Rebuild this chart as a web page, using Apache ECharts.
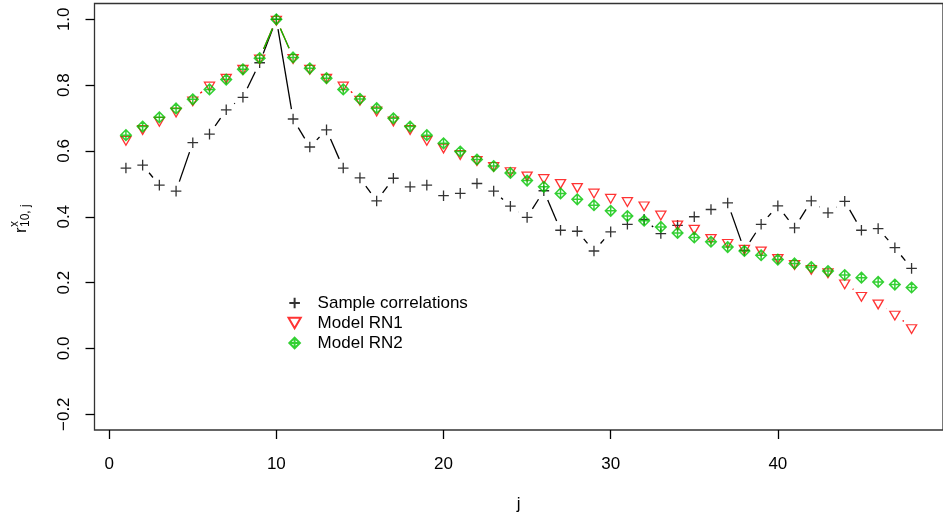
<!DOCTYPE html>
<html><head><meta charset="utf-8">
<script src="https://cdn.jsdelivr.net/npm/echarts@6/dist/echarts.min.js"></script>
<style>html,body{margin:0;padding:0;background:#fff}#c{width:943px;height:518px}</style>
</head><body><div id="c"></div>
<script>
// ---- data ----
const lags = [1,2,3,4,5,6,7,8,9,10,11,12,13,14,15,16,17,18,19,20,21,22,23,24,25,26,27,28,29,30,31,32,33,34,35,36,37,38,39,40,41,42,43,44,45,46,47,48];
const sampleCorr = [0.548,0.557,0.496,0.478,0.625,0.651,0.725,0.763,0.868,1.0,
  0.697,0.612,0.664,0.548,0.518,0.448,0.517,0.491,0.496,0.464,
  0.471,0.501,0.478,0.432,0.398,0.479,0.359,0.356,0.296,0.354,
  0.377,0.392,0.349,0.374,0.400,0.422,0.442,0.298,0.377,0.433,
  0.366,0.448,0.412,0.447,0.359,0.364,0.306,0.243];
const modelRN1 = [0.635,0.668,0.693,0.721,0.755,0.800,0.824,0.851,0.882,1.0,
  0.884,0.851,0.824,0.800,0.757,0.724,0.694,0.668,0.635,0.612,
  0.592,0.574,0.556,0.540,0.527,0.519,0.504,0.492,0.475,0.459,
  0.449,0.436,0.408,0.378,0.365,0.337,0.322,0.304,0.299,0.276,
  0.258,0.243,0.233,0.199,0.161,0.138,0.104,0.063];
const modelRN2 = [0.648,0.674,0.702,0.729,0.757,0.787,0.817,0.848,0.882,1.0,
  0.884,0.851,0.821,0.787,0.758,0.730,0.699,0.674,0.648,0.623,
  0.598,0.574,0.554,0.533,0.510,0.491,0.471,0.453,0.435,0.418,
  0.402,0.388,0.369,0.351,0.337,0.324,0.308,0.296,0.283,0.270,
  0.258,0.247,0.235,0.223,0.215,0.202,0.194,0.185];
const xTicks = [0,10,20,30,40];
const yTicks = [-0.2,0.0,0.2,0.4,0.6,0.8,1.0];
const seriesNames = ['Sample correlations','Model RN1','Model RN2'];

// ---- styling ----
const FONT = '"Liberation Sans", Arial, Helvetica, sans-serif';
const FS = 17;
const BLACK = '#000000', RED = '#ff0000', GREEN = '#00c400';
const PLUS = 'path://M0,-1L0,1M-1,0L1,0';
const TRI_DOWN = 'path://M-1.347,-0.778L1.347,-0.778L0,1.555Z';
const DIAMOND_PLUS = 'path://M0,-1L1,0L0,1L-1,0ZM0,-1L0,1M-1,0L1,0';

function pairs(vals){ return lags.map((j,i)=>[j, vals[i]]); }
function segData(vals){
  const d=[];
  for(let i=0;i<vals.length-1;i++) d.push([lags[i],vals[i],lags[i+1],vals[i+1]]);
  return d;
}
function segSeries(vals,color){
  return {
    type:'custom', silent:true, clip:true, data:segData(vals),
    encode:{x:[0,2], y:[1,3]},
    renderItem:function(params, api){
      const a = api.coord([api.value(0), api.value(1)]);
      const b = api.coord([api.value(2), api.value(3)]);
      const dx=b[0]-a[0], dy=b[1]-a[1], L=Math.hypot(dx,dy), g=10;
      if (L <= 2*g) return {type:'group', children:[]};
      const ux=dx/L, uy=dy/L;
      return {type:'line', shape:{x1:a[0]+ux*g, y1:a[1]+uy*g, x2:b[0]-ux*g, y2:b[1]-uy*g},
              style:{stroke:color, lineWidth:1.3}};
    }
  };
}

const chart = echarts.init(document.getElementById('c'), null, {renderer:'canvas'});
chart.setOption({
  animation:false,
  backgroundColor:'#ffffff',
  textStyle:{fontFamily:FONT},
  grid:{left:94.5, top:3.5, width:856, height:426.5, show:true, borderColor:'#333', borderWidth:1.3, backgroundColor:'transparent', containLabel:false},
  xAxis:{
    type:'value', min:-0.88, max:49.88,
    name:'j', nameLocation:'middle', nameGap:66,
    nameTextStyle:{fontSize:FS, color:BLACK, fontFamily:FONT},
    axisLine:{show:false, onZero:false},
    axisTick:{show:true, length:9, lineStyle:{color:BLACK, width:1.3}, customValues:xTicks},
    axisLabel:{fontSize:FS, color:BLACK, fontFamily:FONT, margin:26, customValues:xTicks, formatter:v=>String(v)},
    splitLine:{show:false}
  },
  yAxis:{
    type:'value', min:-0.248, max:1.048,
    axisLine:{show:false, onZero:false},
    axisTick:{show:true, length:9, lineStyle:{color:BLACK, width:1.3}, customValues:yTicks},
    axisLabel:{fontSize:FS, color:BLACK, fontFamily:FONT, margin:22, rotate:90, customValues:yTicks,
      formatter:v=>{const s=(Math.round(v*10)/10).toFixed(1); return s.replace('-','\u2212');}},
    splitLine:{show:false}
  },
  legend:{
    orient:'vertical', left:286, top:293, padding:0,
    itemWidth:36, itemHeight:10.6, itemGap:0, selectedMode:false,
    textStyle:{fontSize:FS, color:BLACK, fontFamily:FONT, lineHeight:20, height:20},
    data:seriesNames
  },
  graphic:[{
    type:'group', x:21, y:220, rotation:Math.PI/2, silent:true,
    children:[
      {type:'text', x:-13, y:0, style:{text:'r', font:'17px '+FONT, fill:BLACK, textVerticalAlign:'middle', textAlign:'left'}},
      {type:'text', x:-7, y:-6, style:{text:'x', font:'12px '+FONT, fill:BLACK, textVerticalAlign:'middle', textAlign:'left'}},
      {type:'text', x:-7, y:5, style:{text:'10, j', font:'12px '+FONT, fill:BLACK, textVerticalAlign:'middle', textAlign:'left'}}
    ]
  }],
  series:[
    segSeries(sampleCorr, BLACK),
    {type:'scatter', name:seriesNames[0], data:pairs(sampleCorr), symbol:PLUS, symbolSize:10.6,
     itemStyle:{color:'none', borderColor:BLACK, borderWidth:1.3}, emphasis:{disabled:true}},
    segSeries(modelRN1, RED),
    {type:'scatter', name:seriesNames[1], data:pairs(modelRN1), symbol:TRI_DOWN, symbolSize:[10.1,8.75], symbolOffset:[0,1.46],
     itemStyle:{color:'none', borderColor:RED, borderWidth:1.3}, emphasis:{disabled:true}},
    segSeries(modelRN2, GREEN),
    {type:'scatter', name:seriesNames[2], data:pairs(modelRN2), symbol:DIAMOND_PLUS, symbolSize:10.6,
     itemStyle:{color:'none', borderColor:GREEN, borderWidth:1.5}, emphasis:{disabled:true}}
  ]
});
</script></body></html>
